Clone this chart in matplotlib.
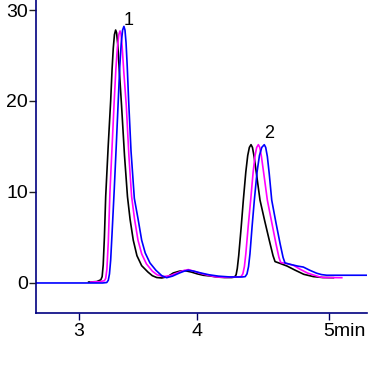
import matplotlib
matplotlib.use("Agg")
import matplotlib.pyplot as plt
from matplotlib.transforms import ScaledTranslation

plt.rcParams['font.family'] = ['Liberation Sans', 'DejaVu Sans']

# retention time (min) and signal
t_black = [3.082, 3.150, 3.185, 3.196, 3.205, 3.215, 3.226, 3.247, 3.268, 3.280,
           3.290, 3.300, 3.310, 3.318, 3.328, 3.340, 3.360, 3.385, 3.410, 3.432,
           3.459, 3.490, 3.530, 3.583, 3.620, 3.657, 3.700, 3.750, 3.797, 3.850,
           3.896, 3.950, 4.000, 4.050, 4.107, 4.170, 4.230, 4.291, 4.315, 4.328,
           4.338, 4.350, 4.370, 4.389, 4.410, 4.426, 4.440, 4.454, 4.466, 4.480,
           4.500, 4.530, 4.570, 4.610, 4.640, 4.657, 4.700, 4.760, 4.820, 4.900,
           4.981, 5.060, 5.150]
s_black = [0.10, 0.15, 0.35, 0.70, 2.0, 5.0, 9.5, 15.0, 20.0, 23.5,
           25.8, 27.3, 27.8, 27.5, 26.2, 23.6, 19.5, 14.0, 9.5, 7.0,
           4.7, 3.0, 1.9, 1.2, 0.8, 0.6, 0.55, 0.7, 1.1, 1.3,
           1.35, 1.2, 1.0, 0.85, 0.77, 0.65, 0.6, 0.6, 0.65, 0.9,
           1.6, 3.0, 6.0, 9.1, 12.2, 14.0, 14.9, 15.2, 14.9, 13.9,
           12.0, 9.1, 6.8, 4.6, 3.0, 2.35, 2.15, 1.85, 1.45, 0.95,
           0.7, 0.6, 0.58]

t_magenta = [3.100, 3.180, 3.215, 3.226, 3.236, 3.248, 3.262, 3.280, 3.298, 3.312,
             3.325, 3.337, 3.347, 3.355, 3.365, 3.378, 3.400, 3.422, 3.445, 3.470,
             3.499, 3.530, 3.570, 3.620, 3.660, 3.713, 3.770, 3.830, 3.880, 3.924,
             3.970, 4.030, 4.090, 4.164, 4.250, 4.344, 4.370, 4.385, 4.398, 4.410,
             4.430, 4.451, 4.472, 4.488, 4.502, 4.516, 4.528, 4.542, 4.562, 4.592,
             4.630, 4.665, 4.690, 4.705, 4.750, 4.811, 4.870, 4.930, 4.981, 5.030,
             5.065, 5.221]
s_magenta = [0.10, 0.15, 0.25, 0.5, 1.5, 4.5, 10.0, 15.0, 20.0, 23.5,
             25.9, 27.3, 27.7, 27.4, 26.0, 23.4, 19.5, 14.0, 9.5, 7.0,
             4.7, 3.2, 2.1, 1.3, 0.9, 0.7, 0.8, 1.1, 1.35, 1.47,
             1.3, 1.05, 0.85, 0.66, 0.62, 0.66, 0.7, 1.0, 1.8, 3.2,
             6.2, 9.1, 12.2, 14.0, 14.9, 15.2, 14.9, 13.9, 12.0, 9.1,
             6.6, 4.3, 2.8, 2.25, 2.15, 1.95, 1.5, 1.1, 0.88, 0.68,
             0.6, 0.58]

t_blue = [2.637, 3.200, 3.235, 3.248, 3.258, 3.268, 3.280, 3.298, 3.315, 3.332,
          3.345, 3.357, 3.369, 3.380, 3.389, 3.398, 3.408, 3.420, 3.440, 3.468,
          3.500, 3.530, 3.560, 3.600, 3.650, 3.700, 3.741, 3.790, 3.850, 3.890,
          3.924, 3.970, 4.030, 4.100, 4.180, 4.276, 4.380, 4.405, 4.420, 4.433,
          4.445, 4.463, 4.482, 4.505, 4.525, 4.545, 4.566, 4.578, 4.592, 4.608,
          4.629, 4.665, 4.700, 4.725, 4.741, 4.800, 4.850, 4.896, 4.950, 5.009,
          5.050, 5.094, 5.200, 5.434]
s_blue = [0.0, 0.0, 0.05, 0.3, 1.0, 2.5, 5.5, 10.2, 15.0, 20.0,
          23.8, 26.3, 27.8, 28.2, 27.8, 26.4, 23.8, 20.0, 14.5, 9.3,
          7.0, 4.7, 3.3, 2.2, 1.4, 0.8, 0.58, 0.75, 1.1, 1.3,
          1.4, 1.3, 1.1, 0.9, 0.75, 0.66, 0.66, 0.7, 1.0, 1.8,
          3.2, 6.2, 9.1, 12.2, 14.0, 14.9, 15.2, 14.9, 13.9, 12.0,
          9.1, 6.6, 4.3, 2.8, 2.2, 2.0, 1.85, 1.75, 1.4, 1.07,
          0.92, 0.85, 0.85, 0.85]

yticks = [0, 10, 20, 30]
xticks = [3, 4, 5.11]
xticklabels = ['3', '4', '5min']
peaks = [('1', 3.423, 28.85), ('2', 4.606, 16.4)]

fig = plt.figure(figsize=(3.78, 3.72), dpi=100)
ax = fig.add_axes([0.0952, 0.1586, 0.8757, 0.8414])

for t, s, c in [(t_black, s_black, 'black'),
                (t_magenta, s_magenta, '#ff00ff'),
                (t_blue, s_blue, '#0000ff')]:
    ax.plot(t, s, color=c, lw=1.2, solid_joinstyle='round')

for txt, x, y in peaks:
    ax.text(x, y, txt, fontsize=13, ha='center', va='center')

ax.set_xlim(2.637, 5.434)
ax.set_ylim(-3.3, 31.1)
ax.set_yticks(yticks)
ax.set_xticks(xticks)
ax.set_xticklabels(xticklabels)

for side in ['top', 'right']:
    ax.spines[side].set_visible(False)
for side in ['left', 'bottom']:
    ax.spines[side].set_color('#000080')
    ax.spines[side].set_linewidth(1.2)

ax.tick_params(axis='y', length=5, width=1, color='#202020', pad=0.8, labelsize=14)
ax.tick_params(axis='x', length=5, width=1, color='#000060', pad=2.5, labelsize=14)

# keep the "5" centred on its tick, "min" trailing
lbl = ax.get_xticklabels()[2]
lbl.set_ha('left')
lbl.set_transform(lbl.get_transform() + ScaledTranslation(-5.4 / 100, 0, fig.dpi_scale_trans))

fig.savefig('out.png', dpi=100)
